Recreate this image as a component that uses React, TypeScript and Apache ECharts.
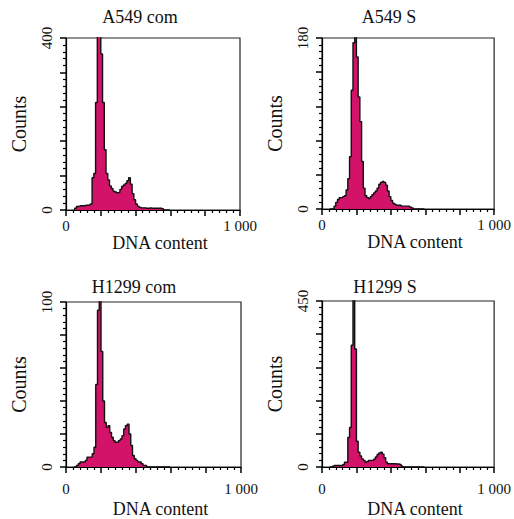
import React, { useEffect, useRef } from "react";
import * as echarts from "echarts";

// DNA content channel centres (bin width 10)
const dnaChannels = [
  45, 55, 65, 75, 85, 95, 105, 115, 125, 135, 145, 155, 165, 175, 185, 195,
  205, 215, 225, 235, 245, 255, 265, 275, 285, 295, 305, 315, 325, 335, 345,
  355, 365, 375, 385, 395, 405, 415, 425, 435, 445, 455, 465, 475, 485, 495,
  505, 515, 525, 535, 545, 555, 565, 575, 585, 595,
];

const panelTitles = ["A549 com", "A549 S", "H1299 com", "H1299 S"];
const yMaxValues = [400, 180, 100, 450];
const xTickLabels = ["0", "1 000"];

const countsA549com = [
  0, 4, 8, 9, 10, 10, 10, 11, 11, 12, 14, 75, 85, 250, 420, 410,
  363, 250, 140, 85, 70, 56, 50, 44, 42, 40, 41, 48, 55, 58, 62,
  68, 75, 60, 38, 24, 14, 9, 6, 5, 5, 5, 4, 4, 5, 4,
  4, 4, 4, 4, 4, 3, 0, 0, 0, 0,
];
const countsA549S = [
  0, 0, 0, 3, 7, 10, 12, 12, 13, 14, 20, 32, 55, 125, 175, 190,
  160, 118, 92, 50, 22, 14, 12, 11, 13, 15, 17, 19, 22, 26, 28,
  29, 28, 25, 19, 13, 9, 6, 5, 4, 4, 4, 3, 3, 3, 3,
  3, 2, 1, 0, 0, 0, 0, 0, 0, 0,
];
const countsH1299com = [
  0, 0, 1, 2, 3, 3, 3, 4, 6, 6, 6, 8, 12, 50, 95, 105,
  70, 40, 27, 24, 25, 21, 18, 16, 15, 15, 16, 17, 19, 23, 25,
  26, 20, 13, 7, 5, 4, 3, 3, 2, 1, 1, 0, 0, 0, 0,
  0, 0, 0, 0, 0, 0, 0, 0, 0, 0,
];
const countsH1299S = [
  0, 0, 2, 4, 4, 4, 4, 4, 6, 13, 13, 80, 107, 330, 470, 320,
  70, 40, 30, 22, 18, 13, 15, 18, 18, 18, 21, 27, 34, 38, 40,
  35, 25, 13, 9, 9, 9, 9, 9, 8, 8, 7, 2, 0, 0, 0,
  0, 0, 0, 0, 0, 0, 0, 0, 0, 0,
];

const panelCounts = [countsA549com, countsA549S, countsH1299com, countsH1299S];

// layout (pixels)
const grids = [
  { left: 66, top: 38, width: 174, height: 172 },
  { left: 322, top: 38, width: 174, height: 171 },
  { left: 66, top: 302, width: 175, height: 170 },
  { left: 322, top: 301, width: 175, height: 171 },
];
const labelMargins = [8, 8, 14, 14];
const nameGaps = [22, 22, 33, 33];
const titlePos = [
  [140, 17],
  [389, 17],
  [134, 287],
  [385, 287],
];

const FONT = "'Liberation Serif', 'Times New Roman', serif";
const FILL = "#d3136a";

export default function App() {
  const ref = useRef<HTMLDivElement>(null);

  useEffect(() => {
    if (!ref.current) return;
    const chart = echarts.init(ref.current, null, { renderer: "svg" });

    const xAxes = grids.map((_, i) => ({
      type: "value",
      gridIndex: i,
      min: 0,
      max: 1000,
      interval: 200,
      name: "DNA content",
      nameLocation: "middle",
      nameGap: nameGaps[i],
      nameTextStyle: {
        fontFamily: FONT,
        fontSize: 18,
        color: "#111",
        padding: [0, 0, 0, 14],
      },
      axisLine: { show: true, onZero: false, lineStyle: { color: "#000", width: 1.2 } },
      axisTick: { show: true, inside: false, length: 6, lineStyle: { color: "#000", width: 1.5 } },
      minorTick: { show: true, splitNumber: 5, length: 3, lineStyle: { color: "#000", width: 1.2 } },
      splitLine: { show: false },
      axisLabel: {
        margin: labelMargins[i],
        fontFamily: FONT,
        fontSize: 15,
        color: "#111",
        formatter: (v: number) => (v === 0 ? xTickLabels[0] : v === 1000 ? xTickLabels[1] : ""),
      },
    }));

    const yAxes = grids.map((_, i) => {
      const M = yMaxValues[i];
      return {
        type: "value",
        gridIndex: i,
        min: 0,
        max: M,
        interval: M / 5,
        name: "Counts",
        nameLocation: "middle",
        nameGap: 37,
        nameTextStyle: { fontFamily: FONT, fontSize: 20, color: "#111" },
        axisLine: { show: true, lineStyle: { color: "#000", width: 1.2 } },
        axisTick: { show: true, inside: false, length: 6, lineStyle: { color: "#000", width: 1.5 } },
        minorTick: { show: true, splitNumber: 5, length: 3, lineStyle: { color: "#000", width: 1.2 } },
        splitLine: { show: false },
        axisLabel: {
          rotate: 90,
          margin: 12,
          fontFamily: FONT,
          fontSize: 15,
          color: "#111",
          formatter: (v: number) => (v === 0 || v === M ? String(v) : ""),
        },
      };
    });

    const series = panelCounts.map((counts, i) => ({
      type: "line",
      xAxisIndex: i,
      yAxisIndex: i,
      step: "middle",
      symbol: "none",
      clip: true,
      data: dnaChannels.map((c, k) => [c, counts[k]]),
      lineStyle: { color: "#111", width: 1.4 },
      areaStyle: { color: FILL, opacity: 1 },
    }));

    chart.setOption({
      animation: false,
      backgroundColor: "#fff",
      grid: grids.map((g) => ({
        ...g,
        show: true,
        borderColor: "#222",
        borderWidth: 1.2,
        backgroundColor: "transparent",
      })),
      xAxis: xAxes,
      yAxis: yAxes,
      series,
      graphic: panelTitles.map((t, i) => ({
        type: "text",
        x: titlePos[i][0],
        y: titlePos[i][1],
        style: {
          text: t,
          align: "center",
          verticalAlign: "middle",
          fontFamily: FONT,
          fontSize: 18,
          fill: "#111",
        },
      })),
    });

    return () => chart.dispose();
  }, []);

  return (
    <div
      ref={ref}
      style={{ position: "fixed", left: 0, top: 0, width: 514, height: 519, background: "#fff" }}
    />
  );
}
